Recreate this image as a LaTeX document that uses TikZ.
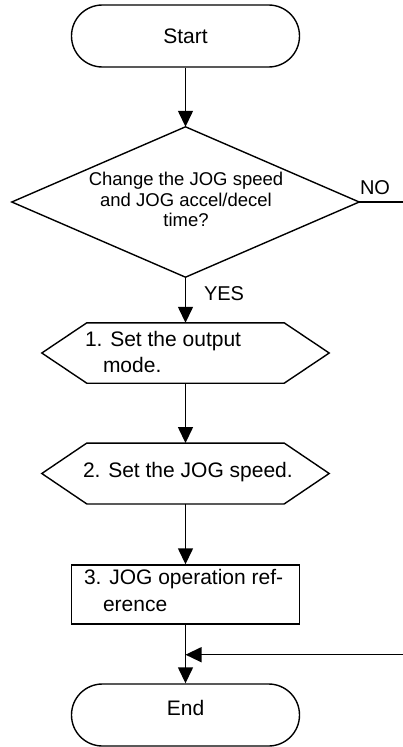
\documentclass[tikz,border=0pt]{standalone}
\usepackage{fontspec}
\setmainfont{Liberation Sans}
\usetikzlibrary{arrows.meta,calc}
\tikzset{
  ln/.style={line width=1.4pt, black},
  arr/.style={ln, -{Triangle[length=16pt,width=15pt]}},
  bigfont/.style={font=\fontsize{21pt}{26.3pt}\selectfont},
  midfont/.style={font=\fontsize{18.5pt}{20.5pt}\selectfont},
  lblfont/.style={font=\fontsize{20pt}{24pt}\selectfont},
  term/.style={ln, draw, rectangle, rounded corners=30.9pt, minimum width=228pt, minimum height=62pt, inner sep=0pt, bigfont},
  frame/.style={rectangle, draw=none, inner sep=0pt},
  procbox/.style={ln, draw, rectangle, minimum width=228pt, minimum height=59pt, inner sep=0pt},
  txt/.style={inner sep=0pt, outer sep=0pt},
}
\begin{document}
\begin{tikzpicture}[x=1pt,y=-1pt]
\clip (0,0) rectangle (403,747);
\fill[white] (0,0) rectangle (403,747);

% Start
\node[term] (start) at (185.5,36) {Start};

% Decision
\node[frame, minimum width=347pt, minimum height=150pt] (d) at (185.5,202) {};
\draw[ln] (d.north) -- (d.east) -- (d.south) -- (d.west) -- cycle;
\node[txt, midfont, align=center, anchor=north] (dq) at (186,172.2)
  {Change the JOG speed\\and JOG accel/decel\\time?};

% Hexagon 1
\node[frame, minimum width=287pt, minimum height=60pt] (h1) at (185.5,353) {};
\draw[ln] (h1.west) -- ([xshift=45pt]h1.north west) -- ([xshift=-45pt]h1.north east)
  -- (h1.east) -- ([xshift=-45pt]h1.south east) -- ([xshift=45pt]h1.south west) -- cycle;
\node[txt, bigfont, align=left, anchor=north west] (h1t) at (85,331.4)
  {1. Set the output\\\hspace*{18pt}mode.};

% Hexagon 2
\node[frame, minimum width=287pt, minimum height=60.5pt] (h2) at (185.5,473.5) {};
\draw[ln] (h2.west) -- ([xshift=45pt]h2.north west) -- ([xshift=-45pt]h2.north east)
  -- (h2.east) -- ([xshift=-45pt]h2.south east) -- ([xshift=45pt]h2.south west) -- cycle;
\node[txt, bigfont, anchor=base west] (h2t) at (83,477.7) {2. Set the JOG speed.};

% Process box
\node[procbox] (r) at (185.5,594.5) {};
\node[txt, bigfont, align=left, anchor=north west] (rt) at (84,569.7)
  {3. JOG operation ref-\\\hspace*{19pt}erence};

% End
\node[term, text height=14.6pt, text depth=13.2pt] (end) at (185.5,715) {End};

% Connectors
\coordinate (m) at (185.5,654.7);
\coordinate (no1) at (415,202);
\draw[arr] (start.south) -- (d.north);
\draw[arr] (d.south) -- (h1.north);
\draw[arr] (h1.south) -- (h2.north);
\draw[arr] (h2.south) -- (r.north);
\draw[arr] (r.south) -- (end.north);
\draw[arr] (d.east) -- (no1) |- (m);

% Labels
\node[txt, lblfont, anchor=base west] (yes) at (204,300.5) {YES};
\node[txt, lblfont, anchor=base west] (no) at (360,194) {NO};
\end{tikzpicture}
\end{document}
